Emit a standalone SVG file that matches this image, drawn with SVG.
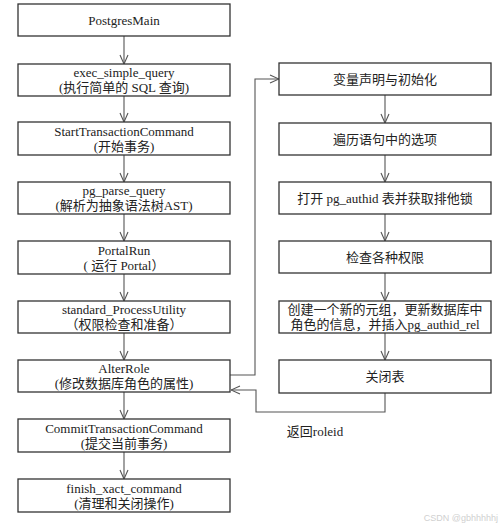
<svg xmlns="http://www.w3.org/2000/svg" width="500" height="527" viewBox="0 0 500 527">
<defs>
<marker id="arr" viewBox="0 0 10 10" refX="10" refY="5" markerWidth="10" markerHeight="10" markerUnits="userSpaceOnUse" orient="auto">
<path d="M1,1 L10,5 L1,9" fill="none" stroke="#555" stroke-width="1.1"/>
</marker>
<style>
.box{fill:#fff;stroke:#333;stroke-width:1.3}
.t{font-family:"Liberation Serif","Noto Sans CJK SC",serif;font-size:13px;fill:#222;text-anchor:middle}
.c{fill:none;stroke:#555;stroke-width:1.1}
.wm{font-family:"Liberation Sans","Noto Sans",sans-serif;font-size:9px;fill:#d0d0d0;text-anchor:end}
</style>
</defs>
<rect width="500" height="527" fill="#fff"/>
<g id="connectors">
<path class="c" d="M124,36 V64" marker-end="url(#arr)"/>
<path class="c" d="M124,96 V122" marker-end="url(#arr)"/>
<path class="c" d="M124,155 V182" marker-end="url(#arr)"/>
<path class="c" d="M124,214 V241" marker-end="url(#arr)"/>
<path class="c" d="M124,274 V301" marker-end="url(#arr)"/>
<path class="c" d="M124,333 V360" marker-end="url(#arr)"/>
<path class="c" d="M124,392 V419" marker-end="url(#arr)"/>
<path class="c" d="M124,452 V479" marker-end="url(#arr)"/>
<path class="c" d="M230,375 H255 V79 H279" marker-end="url(#arr)"/>
<path class="c" d="M385,95 V123" marker-end="url(#arr)"/>
<path class="c" d="M385,155 V182" marker-end="url(#arr)"/>
<path class="c" d="M385,214 V241" marker-end="url(#arr)"/>
<path class="c" d="M385,273 V301" marker-end="url(#arr)"/>
<path class="c" d="M385,333 V360" marker-end="url(#arr)"/>
<path class="c" d="M385,393 V412 H256 V390 H231" marker-end="url(#arr)"/>
</g>
<g id="n1"><rect class="box" x="18" y="4" width="212" height="32"/><text class="t" x="124" y="24.5">PostgresMain</text></g>
<g id="n2"><rect class="box" x="18" y="64" width="212" height="32"/><text class="t" x="124" y="77">exec_simple_query</text><text class="t" x="124" y="92">(执行简单的 SQL 查询)</text></g>
<g id="n3"><rect class="box" x="18" y="122" width="212" height="33"/><text class="t" x="124" y="135.5">StartTransactionCommand</text><text class="t" x="124" y="150.5">(开始事务)</text></g>
<g id="n4"><rect class="box" x="18" y="182" width="212" height="32"/><text class="t" x="124" y="195">pg_parse_query</text><text class="t" x="124" y="210">(解析为抽象语法树AST)</text></g>
<g id="n5"><rect class="box" x="18" y="241" width="212" height="33"/><text class="t" x="124" y="254.5">PortalRun</text><text class="t" x="124" y="269.5">( 运行 Portal）</text></g>
<g id="n6"><rect class="box" x="18" y="301" width="212" height="32"/><text class="t" x="124" y="314">standard_ProcessUtility</text><text class="t" x="124" y="329">（权限检查和准备）</text></g>
<g id="n7"><rect class="box" x="18" y="360" width="212" height="32"/><text class="t" x="124" y="373">AlterRole</text><text class="t" x="124" y="388">(修改数据库角色的属性)</text></g>
<g id="n8"><rect class="box" x="18" y="419" width="212" height="33"/><text class="t" x="124" y="432.5">CommitTransactionCommand</text><text class="t" x="124" y="447.5">(提交当前事务)</text></g>
<g id="n9"><rect class="box" x="18" y="479" width="212" height="33"/><text class="t" x="124" y="492.5">finish_xact_command</text><text class="t" x="124" y="507.5">(清理和关闭操作)</text></g>
<g id="r1"><rect class="box" x="279" y="63" width="212" height="32"/><text class="t" x="385" y="83.5">变量声明与初始化</text></g>
<g id="r2"><rect class="box" x="279" y="123" width="212" height="32"/><text class="t" x="385" y="143.5">遍历语句中的选项</text></g>
<g id="r3"><rect class="box" x="279" y="182" width="212" height="32"/><text class="t" x="385" y="202.5">打开 pg_authid 表并获取排他锁</text></g>
<g id="r4"><rect class="box" x="279" y="241" width="212" height="32"/><text class="t" x="385" y="261.5">检查各种权限</text></g>
<g id="r5"><rect class="box" x="279" y="301" width="212" height="32"/><text class="t" x="385" y="314">创建一个新的元组，更新数据库中</text><text class="t" x="385" y="329">角色的信息，并插入pg_authid_rel</text></g>
<g id="r6"><rect class="box" x="279" y="360" width="212" height="33"/><text class="t" x="385" y="381">关闭表</text></g>
<text class="t" x="315" y="436">返回roleid</text>
<text class="wm" x="498" y="521">CSDN @gbhhhhhj</text>
</svg>
